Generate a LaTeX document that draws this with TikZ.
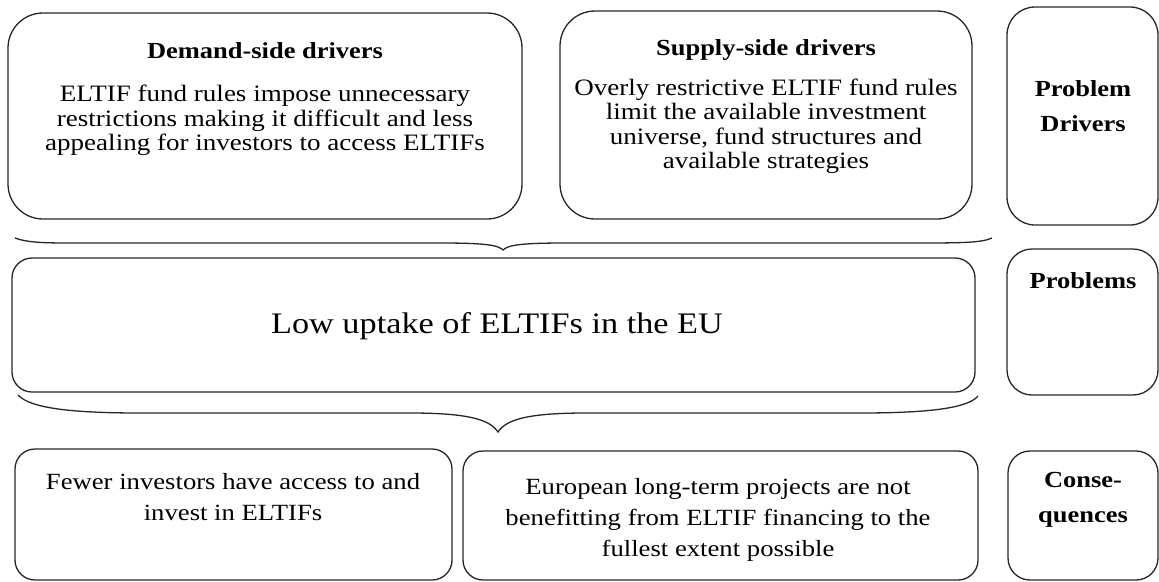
\documentclass[tikz,border=0pt]{standalone}
\usepackage{fontspec}
\setmainfont[FakeStretch=1.15]{Liberation Serif}
\begin{document}
\begin{tikzpicture}[x=1pt,y=-1pt,
  box/.style={draw=black!85, line width=1.3pt, inner sep=0pt, outer sep=0pt},
  body/.style={align=center, inner sep=0pt, font=\fontsize{23.5}{24.5}\selectfont},
  title/.style={align=center, inner sep=0pt, font=\fontsize{23}{25}\selectfont\bfseries},
  side/.style={align=center, inner sep=0pt, font=\fontsize{23}{35}\selectfont\bfseries},
  cons/.style={align=center, inner sep=0pt, font=\fontsize{23.2}{31}\selectfont},
  bracestyle/.style={draw=black!85, line width=1.3pt}]
\useasboundingbox (0,0) rectangle (1159,581);
% boxes
\node[box, rounded corners=35pt, minimum width=514pt, minimum height=206pt] (demand) at (265,116) {};
\node[box, rounded corners=35pt, minimum width=412pt, minimum height=208pt] (supply) at (766,115) {};
\node[box, rounded corners=28pt, minimum width=151pt, minimum height=218pt] (pdrivers) at (1082.5,116) {};
\node[box, rounded corners=20pt, minimum width=963pt, minimum height=134pt] (problem) at (493.5,325) {};
\node[box, rounded corners=25pt, minimum width=151pt, minimum height=146pt] (problems) at (1082.5,322) {};
\node[box, rounded corners=20pt, minimum width=437pt, minimum height=131pt] (cons1) at (233.5,514.5) {};
\node[box, rounded corners=20pt, minimum width=515pt, minimum height=129pt] (cons2) at (720.5,515.5) {};
\node[box, rounded corners=22pt, minimum width=150pt, minimum height=129pt] (conseq) at (1083,515.5) {};
% texts
\node[title] (demandt) at (265,51) {Demand-side drivers};
\node[body] (demandb) at (265,120.5) {ELTIF fund rules impose unnecessary\\restrictions making it difficult and less\\appealing for investors to access ELTIFs};
\node[title] (supplyt) at (766,50) {Supply-side drivers};
\node[body] (supplyb) at (766,126.5) {Overly restrictive ELTIF fund rules\\limit the available investment\\universe, fund structures and\\available strategies};
\node[side] (pdriverst) at (1083,106.5) {Problem\\Drivers};
\node[body, font=\fontsize{29.8}{32}\selectfont] (problemt) at (497,326) {Low uptake of ELTIFs in the EU};
\node[side] (problemst) at (1083,281) {Problems};
\node[cons] (cons1t) at (233,497) {Fewer investors have access to and\\invest in ELTIFs};
\node[cons] (cons2t) at (718,520) {European long-term projects are not\\benefitting from ELTIF financing to the\\fullest extent possible};
\node[side] (conseqt) at (1083,499.5) {Conse-\\quences};
% braces
\draw[bracestyle] (15,238) .. controls (30,243.5) and (50,243) .. (90,243) -- (440,243)
  .. controls (485,243) and (498,245) .. (503,250)
  .. controls (508,245) and (521,243) .. (566,243) -- (920,243)
  .. controls (965,243) and (982,242.5) .. (992,238);
\draw[bracestyle] (18,395) .. controls (30,408) and (70,413) .. (140,413) -- (410,413)
  .. controls (470,413) and (490,420) .. (498,432)
  .. controls (506,420) and (526,413) .. (586,413) -- (860,413)
  .. controls (930,413) and (968,408) .. (978,396);
\end{tikzpicture}
\end{document}
